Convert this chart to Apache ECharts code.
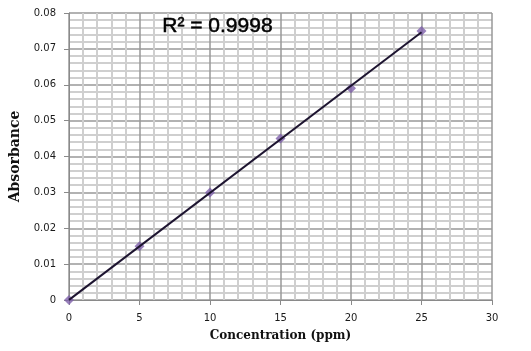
<!DOCTYPE html>
<html>
<head>
<meta charset="utf-8">
<script src="https://cdn.jsdelivr.net/npm/echarts@6/dist/echarts.min.js"></script>
<style>html,body{margin:0;padding:0;background:#fff}#c{width:531px;height:351px}</style>
</head>
<body>
<div id="c"></div>
<script>
var concentration = [0, 5, 10, 15, 20, 25];
var absorbance = [0, 0.015, 0.030, 0.045, 0.059, 0.075];
var xTicks = [0, 5, 10, 15, 20, 25, 30];
var yTicks = [0, 0.01, 0.02, 0.03, 0.04, 0.05, 0.06, 0.07, 0.08];
var r2Label = 'R\u00b2 = 0.9998';
var xTitle = 'Concentration (ppm)';
var yTitle = 'Absorbance';

// least-squares trendline from the data
var n = concentration.length, sx = 0, sy = 0, sxy = 0, sxx = 0;
for (var i = 0; i < n; i++) { sx += concentration[i]; sy += absorbance[i]; sxy += concentration[i]*absorbance[i]; sxx += concentration[i]*concentration[i]; }
var slope = (n*sxy - sx*sy) / (n*sxx - sx*sx);
var intercept = (sy - slope*sx) / n;
var xFirst = concentration[0], xLast = concentration[n-1];
var trend = [[xFirst, intercept + slope*xFirst], [xLast, intercept + slope*xLast]];

var chart = echarts.init(document.getElementById('c'), null, {renderer: 'canvas'});
chart.setOption({
  animation: false,
  backgroundColor: '#fff',
  grid: {left: 67, right: 39, top: 13, bottom: 51, containLabel: false},
  xAxis: {
    type: 'value', min: xTicks[0], max: xTicks[xTicks.length-1], interval: 5,
    axisLine: {lineStyle: {color: '#8a8a8a', width: 1}},
    axisTick: {show: true, length: 5, lineStyle: {color: '#8a8a8a'}},
    axisLabel: {margin: 13, fontFamily: 'DejaVu Sans', fontSize: 10, color: '#1a1a1a'},
    splitLine: {show: true, lineStyle: {color: '#999', width: 1.5}},
    minorTick: {show: false, splitNumber: 5},
    minorSplitLine: {show: true, lineStyle: {color: '#cfcfcf', width: 2}},
    name: xTitle, nameLocation: 'middle', nameGap: 30,
    nameTextStyle: {fontFamily: 'DejaVu Serif', fontWeight: 'bold', fontSize: 12, color: '#111'}
  },
  yAxis: {
    type: 'value', min: yTicks[0], max: yTicks[yTicks.length-1], interval: 0.01,
    axisLine: {show: true, lineStyle: {color: '#8a8a8a', width: 1}},
    axisTick: {show: true, length: 5, lineStyle: {color: '#8a8a8a'}},
    axisLabel: {margin: 13, fontFamily: 'DejaVu Sans', fontSize: 10, color: '#1a1a1a',
      formatter: function (v) { return v === 0 ? '0' : v.toFixed(2); }},
    splitLine: {show: true, lineStyle: {color: '#999', width: 1.5}},
    minorTick: {show: false, splitNumber: 5},
    minorSplitLine: {show: true, lineStyle: {color: '#cfcfcf', width: 2}},
    name: yTitle, nameLocation: 'middle', nameGap: 47, nameRotate: 90,
    nameTextStyle: {fontFamily: 'DejaVu Serif', fontWeight: 'bold', fontSize: 14, color: '#111'}
  },
  graphic: [{
    type: 'text', left: 162, top: 15, z: 10,
    style: {text: r2Label, font: '21px "Liberation Sans"', fill: '#000', stroke: '#000', lineWidth: 0.5}
  }],
  series: [
    {type: 'scatter', data: concentration.map(function (x, i) { return [x, absorbance[i]]; }),
     symbol: 'diamond', symbolSize: 10, itemStyle: {color: '#7e60aa'}, z: 2},
    {type: 'line', data: trend, showSymbol: false, symbol: 'none',
     lineStyle: {color: '#1d1430', width: 2}, z: 3}
  ]
});
</script>
</body>
</html>
